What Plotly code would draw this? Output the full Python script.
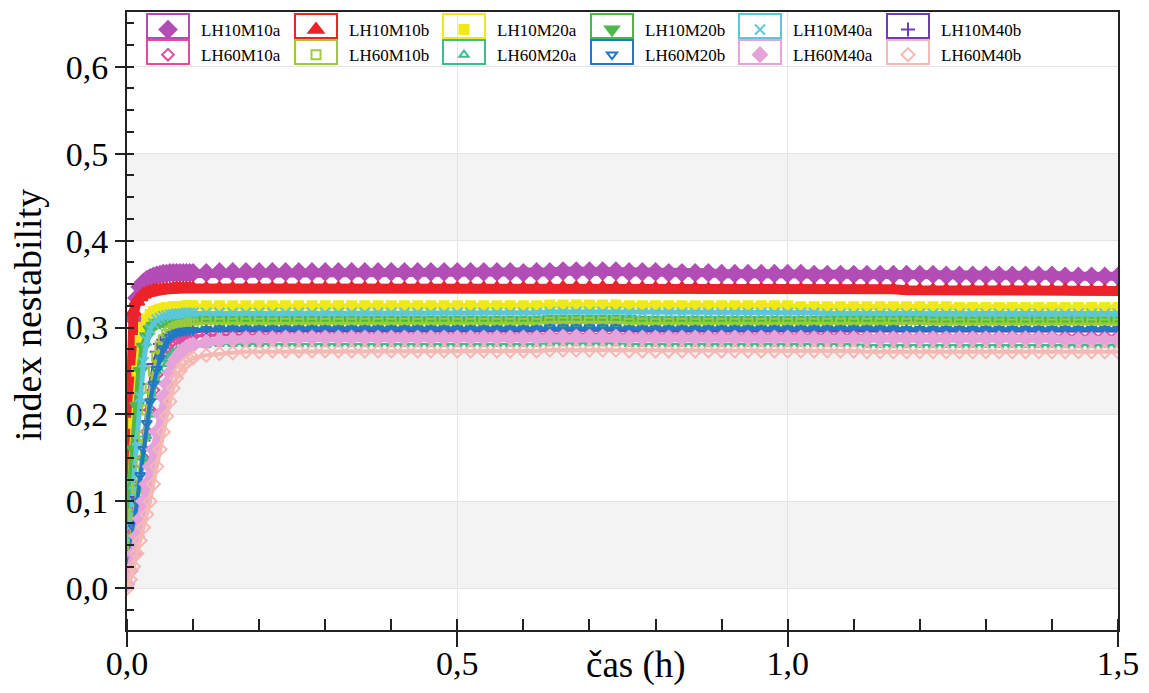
import plotly.graph_objects as go

# ---------------- data ----------------
time_h = [0.000, 0.005, 0.010, 0.015, 0.020, 0.025, 0.030, 0.035, 0.040, 0.045, 0.050,
          0.055, 0.060, 0.065, 0.070, 0.075, 0.080, 0.085, 0.090, 0.095, 0.100,
          0.12, 0.14, 0.16, 0.18, 0.20, 0.22, 0.24, 0.26, 0.28, 0.30,
          0.32, 0.34, 0.36, 0.38, 0.40, 0.42, 0.44, 0.46, 0.48, 0.50,
          0.52, 0.54, 0.56, 0.58, 0.60, 0.62, 0.64, 0.66, 0.68, 0.70,
          0.72, 0.74, 0.76, 0.78, 0.80, 0.82, 0.84, 0.86, 0.88, 0.90,
          0.92, 0.94, 0.96, 0.98, 1.00, 1.02, 1.04, 1.06, 1.08, 1.10,
          1.12, 1.14, 1.16, 1.18, 1.20, 1.22, 1.24, 1.26, 1.28, 1.30,
          1.32, 1.34, 1.36, 1.38, 1.40, 1.42, 1.44, 1.46, 1.48, 1.50]

LH10M10a = [0.110, 0.250, 0.310, 0.334, 0.347, 0.352, 0.355, 0.357, 0.359, 0.360, 0.361,
            0.362, 0.362, 0.363, 0.363, 0.363, 0.363, 0.363, 0.363, 0.363, 0.363,
            0.363, 0.364, 0.364, 0.364, 0.364, 0.364, 0.364, 0.364, 0.364, 0.364,
            0.364, 0.364, 0.364, 0.364, 0.364, 0.364, 0.364, 0.364, 0.364, 0.364,
            0.364, 0.364, 0.364, 0.364, 0.363, 0.364, 0.364, 0.365, 0.365, 0.365,
            0.365, 0.365, 0.364, 0.364, 0.364, 0.363, 0.363, 0.363, 0.363, 0.362,
            0.362, 0.362, 0.362, 0.362, 0.362, 0.362, 0.361, 0.361, 0.361, 0.361,
            0.361, 0.361, 0.361, 0.361, 0.361, 0.361, 0.360, 0.360, 0.360, 0.360,
            0.360, 0.360, 0.360, 0.360, 0.360, 0.359, 0.359, 0.359, 0.359, 0.359]

LH10M10b = [0.060, 0.220, 0.318, 0.330, 0.335, 0.338, 0.340, 0.341, 0.342, 0.343, 0.343,
            0.344, 0.344, 0.344, 0.345, 0.345, 0.345, 0.345, 0.345, 0.345, 0.345,
            0.345, 0.345, 0.345, 0.345, 0.345, 0.345, 0.345, 0.345, 0.345, 0.345,
            0.345, 0.345, 0.345, 0.345, 0.345, 0.345, 0.345, 0.345, 0.345, 0.345,
            0.345, 0.345, 0.345, 0.345, 0.345, 0.345, 0.346, 0.346, 0.346, 0.346,
            0.346, 0.346, 0.345, 0.345, 0.345, 0.345, 0.345, 0.345, 0.344, 0.344,
            0.344, 0.344, 0.344, 0.344, 0.344, 0.344, 0.344, 0.344, 0.344, 0.344,
            0.344, 0.344, 0.344, 0.343, 0.343, 0.343, 0.343, 0.343, 0.343, 0.343,
            0.343, 0.343, 0.343, 0.343, 0.343, 0.343, 0.342, 0.342, 0.342, 0.342]

LH10M20a = [0.080, 0.120, 0.190, 0.250, 0.285, 0.300, 0.310, 0.315, 0.318, 0.320, 0.321,
            0.322, 0.323, 0.323, 0.324, 0.324, 0.324, 0.324, 0.325, 0.325, 0.325,
            0.325, 0.325, 0.325, 0.325, 0.325, 0.325, 0.325, 0.325, 0.325, 0.325,
            0.325, 0.325, 0.325, 0.325, 0.325, 0.325, 0.325, 0.325, 0.325, 0.325,
            0.325, 0.325, 0.325, 0.325, 0.325, 0.325, 0.326, 0.326, 0.326, 0.326,
            0.326, 0.326, 0.325, 0.325, 0.325, 0.325, 0.325, 0.325, 0.325, 0.325,
            0.325, 0.325, 0.325, 0.325, 0.325, 0.324, 0.324, 0.324, 0.324, 0.324,
            0.324, 0.324, 0.324, 0.324, 0.324, 0.324, 0.324, 0.323, 0.323, 0.323,
            0.323, 0.323, 0.323, 0.323, 0.323, 0.323, 0.323, 0.323, 0.323, 0.323]

LH10M20b = [0.060, 0.110, 0.160, 0.210, 0.250, 0.278, 0.290, 0.298, 0.302, 0.305, 0.306,
            0.307, 0.308, 0.308, 0.309, 0.309, 0.309, 0.309, 0.309, 0.309, 0.309,
            0.309, 0.309, 0.309, 0.309, 0.309, 0.309, 0.309, 0.309, 0.309, 0.309,
            0.309, 0.309, 0.309, 0.309, 0.309, 0.309, 0.309, 0.309, 0.309, 0.309,
            0.309, 0.309, 0.309, 0.309, 0.309, 0.309, 0.310, 0.310, 0.310, 0.310,
            0.310, 0.310, 0.310, 0.309, 0.309, 0.309, 0.309, 0.309, 0.309, 0.309,
            0.309, 0.309, 0.309, 0.309, 0.309, 0.309, 0.309, 0.309, 0.309, 0.309,
            0.309, 0.309, 0.309, 0.309, 0.309, 0.308, 0.308, 0.308, 0.308, 0.308,
            0.308, 0.308, 0.308, 0.308, 0.308, 0.308, 0.308, 0.308, 0.308, 0.308]

LH10M40a = [0.030, 0.070, 0.120, 0.170, 0.220, 0.260, 0.285, 0.298, 0.305, 0.309, 0.311,
            0.313, 0.314, 0.315, 0.315, 0.316, 0.316, 0.316, 0.317, 0.317, 0.317,
            0.317, 0.317, 0.317, 0.317, 0.317, 0.317, 0.317, 0.317, 0.317, 0.317,
            0.317, 0.317, 0.317, 0.317, 0.317, 0.317, 0.317, 0.317, 0.317, 0.317,
            0.317, 0.317, 0.317, 0.317, 0.317, 0.317, 0.318, 0.318, 0.318, 0.318,
            0.318, 0.318, 0.317, 0.317, 0.317, 0.317, 0.317, 0.317, 0.317, 0.317,
            0.317, 0.317, 0.317, 0.317, 0.317, 0.317, 0.317, 0.316, 0.316, 0.316,
            0.316, 0.316, 0.316, 0.316, 0.316, 0.316, 0.316, 0.316, 0.316, 0.316,
            0.316, 0.316, 0.316, 0.316, 0.316, 0.316, 0.316, 0.316, 0.316, 0.316]

LH10M40b = [0.020, 0.045, 0.075, 0.105, 0.140, 0.170, 0.205, 0.235, 0.258, 0.272, 0.281,
            0.286, 0.289, 0.291, 0.292, 0.293, 0.294, 0.294, 0.295, 0.295, 0.295,
            0.296, 0.296, 0.296, 0.296, 0.296, 0.296, 0.296, 0.296, 0.296, 0.296,
            0.296, 0.296, 0.296, 0.296, 0.296, 0.296, 0.296, 0.296, 0.296, 0.296,
            0.296, 0.296, 0.296, 0.296, 0.296, 0.296, 0.297, 0.297, 0.297, 0.297,
            0.297, 0.297, 0.296, 0.296, 0.296, 0.296, 0.296, 0.296, 0.296, 0.296,
            0.296, 0.296, 0.296, 0.296, 0.296, 0.296, 0.296, 0.296, 0.296, 0.296,
            0.296, 0.296, 0.296, 0.296, 0.296, 0.296, 0.296, 0.296, 0.296, 0.296,
            0.296, 0.296, 0.296, 0.296, 0.296, 0.296, 0.296, 0.296, 0.296, 0.296]

LH60M10a = [0.020, 0.040, 0.065, 0.090, 0.120, 0.150, 0.180, 0.205, 0.228, 0.246, 0.260,
            0.270, 0.277, 0.282, 0.285, 0.287, 0.288, 0.289, 0.289, 0.290, 0.290,
            0.291, 0.291, 0.291, 0.291, 0.291, 0.291, 0.291, 0.291, 0.291, 0.291,
            0.291, 0.291, 0.291, 0.291, 0.291, 0.291, 0.291, 0.291, 0.291, 0.291,
            0.291, 0.291, 0.291, 0.291, 0.291, 0.291, 0.292, 0.292, 0.292, 0.292,
            0.292, 0.292, 0.291, 0.291, 0.291, 0.291, 0.291, 0.291, 0.291, 0.291,
            0.291, 0.291, 0.291, 0.291, 0.291, 0.291, 0.291, 0.291, 0.291, 0.291,
            0.290, 0.290, 0.290, 0.290, 0.290, 0.290, 0.290, 0.290, 0.290, 0.290,
            0.290, 0.290, 0.290, 0.290, 0.290, 0.290, 0.290, 0.290, 0.290, 0.290]

LH60M10b = [0.030, 0.055, 0.085, 0.115, 0.145, 0.175, 0.205, 0.230, 0.250, 0.266, 0.278,
            0.286, 0.292, 0.296, 0.299, 0.301, 0.302, 0.303, 0.303, 0.304, 0.304,
            0.305, 0.305, 0.305, 0.305, 0.305, 0.305, 0.305, 0.305, 0.305, 0.305,
            0.305, 0.305, 0.305, 0.305, 0.305, 0.305, 0.305, 0.305, 0.305, 0.305,
            0.305, 0.305, 0.305, 0.305, 0.305, 0.305, 0.306, 0.306, 0.306, 0.306,
            0.306, 0.306, 0.305, 0.305, 0.305, 0.305, 0.305, 0.305, 0.305, 0.305,
            0.305, 0.305, 0.305, 0.305, 0.305, 0.305, 0.305, 0.305, 0.305, 0.305,
            0.305, 0.305, 0.305, 0.305, 0.305, 0.304, 0.304, 0.304, 0.304, 0.304,
            0.304, 0.304, 0.304, 0.304, 0.304, 0.304, 0.304, 0.304, 0.304, 0.304]

LH60M20a = [0.010, 0.030, 0.060, 0.090, 0.120, 0.150, 0.175, 0.200, 0.220, 0.238, 0.250,
            0.258, 0.264, 0.268, 0.271, 0.273, 0.275, 0.276, 0.277, 0.278, 0.279,
            0.280, 0.281, 0.281, 0.281, 0.281, 0.281, 0.281, 0.281, 0.281, 0.281,
            0.281, 0.281, 0.281, 0.281, 0.281, 0.281, 0.281, 0.281, 0.281, 0.281,
            0.281, 0.281, 0.281, 0.281, 0.281, 0.281, 0.282, 0.282, 0.282, 0.282,
            0.282, 0.282, 0.281, 0.281, 0.281, 0.281, 0.281, 0.281, 0.281, 0.281,
            0.281, 0.281, 0.281, 0.281, 0.281, 0.281, 0.281, 0.281, 0.281, 0.281,
            0.280, 0.280, 0.280, 0.280, 0.280, 0.280, 0.280, 0.280, 0.280, 0.280,
            0.280, 0.280, 0.280, 0.280, 0.280, 0.280, 0.280, 0.280, 0.280, 0.280]

LH60M20b = [0.020, 0.040, 0.070, 0.100, 0.130, 0.160, 0.190, 0.215, 0.235, 0.252, 0.265,
            0.276, 0.284, 0.289, 0.292, 0.294, 0.295, 0.296, 0.296, 0.297, 0.297,
            0.298, 0.299, 0.299, 0.299, 0.299, 0.299, 0.299, 0.299, 0.299, 0.299,
            0.299, 0.299, 0.299, 0.299, 0.299, 0.299, 0.299, 0.299, 0.299, 0.299,
            0.299, 0.299, 0.299, 0.299, 0.299, 0.299, 0.300, 0.300, 0.300, 0.300,
            0.300, 0.300, 0.299, 0.299, 0.299, 0.299, 0.299, 0.299, 0.299, 0.299,
            0.299, 0.299, 0.299, 0.299, 0.299, 0.299, 0.299, 0.299, 0.299, 0.299,
            0.299, 0.299, 0.299, 0.298, 0.298, 0.298, 0.298, 0.298, 0.298, 0.298,
            0.298, 0.298, 0.298, 0.298, 0.298, 0.298, 0.298, 0.298, 0.298, 0.298]

LH60M40a = [0.005, 0.020, 0.040, 0.060, 0.080, 0.100, 0.120, 0.140, 0.160, 0.180, 0.200,
            0.220, 0.235, 0.248, 0.258, 0.265, 0.270, 0.274, 0.277, 0.279, 0.280,
            0.283, 0.285, 0.286, 0.287, 0.287, 0.287, 0.288, 0.288, 0.288, 0.288,
            0.288, 0.288, 0.288, 0.288, 0.288, 0.288, 0.288, 0.288, 0.288, 0.288,
            0.288, 0.288, 0.288, 0.288, 0.288, 0.288, 0.289, 0.289, 0.289, 0.289,
            0.289, 0.289, 0.288, 0.288, 0.288, 0.288, 0.288, 0.288, 0.288, 0.288,
            0.288, 0.288, 0.288, 0.288, 0.288, 0.288, 0.287, 0.287, 0.287, 0.287,
            0.287, 0.287, 0.287, 0.287, 0.287, 0.287, 0.287, 0.287, 0.287, 0.287,
            0.287, 0.287, 0.287, 0.287, 0.287, 0.286, 0.286, 0.286, 0.286, 0.286]

LH60M40b = [0.000, 0.010, 0.025, 0.040, 0.055, 0.070, 0.085, 0.100, 0.120, 0.140, 0.160,
            0.180, 0.198, 0.215, 0.230, 0.242, 0.250, 0.256, 0.260, 0.263, 0.265,
            0.268, 0.270, 0.271, 0.272, 0.272, 0.273, 0.273, 0.273, 0.273, 0.273,
            0.273, 0.273, 0.273, 0.273, 0.273, 0.273, 0.273, 0.273, 0.273, 0.273,
            0.273, 0.273, 0.273, 0.273, 0.273, 0.273, 0.274, 0.274, 0.274, 0.274,
            0.274, 0.274, 0.273, 0.273, 0.273, 0.273, 0.273, 0.273, 0.273, 0.273,
            0.273, 0.273, 0.273, 0.273, 0.273, 0.273, 0.273, 0.273, 0.273, 0.273,
            0.272, 0.272, 0.272, 0.272, 0.272, 0.272, 0.272, 0.272, 0.272, 0.272,
            0.272, 0.272, 0.272, 0.272, 0.272, 0.272, 0.272, 0.272, 0.272, 0.272]

series_names = ["LH10M10a", "LH10M10b", "LH10M20a", "LH10M20b", "LH10M40a", "LH10M40b",
                "LH60M10a", "LH60M10b", "LH60M20a", "LH60M20b", "LH60M40a", "LH60M40b"]
series_values = [LH10M10a, LH10M10b, LH10M20a, LH10M20b, LH10M40a, LH10M40b,
                 LH60M10a, LH60M10b, LH60M20a, LH60M20b, LH60M40a, LH60M40b]

y_tick_values = [0.0, 0.1, 0.2, 0.3, 0.4, 0.5, 0.6]
x_tick_values = [0.0, 0.5, 1.0, 1.5]

# ---------------- styles ----------------
colors = ["#b34db6", "#ec2329", "#f1e817", "#4db848", "#5ac7da", "#6a3fb3",
          "#df4b9e", "#9bcb3b", "#3dbd8b", "#2278c7", "#e6a3d9", "#f5b8b3"]
symbols = ["diamond", "triangle-up", "square", "triangle-down", "x-thin", "cross-thin",
           "diamond-open", "square-open", "triangle-up-open", "triangle-down-open", "diamond", "diamond-open"]
sizes = [13, 13, 9, 12, 10, 10, 9, 9, 8, 9, 11, 10]
band_widths = [9, 10, 6, 8, 5, 3, 3, 3, 2, 4, 8, 4]

FONT = "Liberation Serif"
W, H = 1149, 693
ML, MR, MT, MB = 127, 31, 12, 63
PW, PH = W - ML - MR, H - MT - MB

fig = go.Figure()
for name, vals, col, sym, sz, bw in zip(series_names, series_values, colors, symbols, sizes, band_widths):
    fig.add_trace(go.Scatter(x=time_h, y=vals, mode="lines", showlegend=False,
                             line=dict(color=col, width=bw), hoverinfo="skip"))
    fig.add_trace(go.Scatter(x=time_h, y=vals, mode="markers", name=name,
                             marker=dict(symbol=sym, size=sz, color=col,
                                         line=dict(color=col, width=2))))

# background bands
shapes = []
for lo in [0.0, 0.2, 0.4]:
    shapes.append(dict(type="rect", xref="paper", yref="y", x0=0, x1=1, y0=lo, y1=lo + 0.1,
                       fillcolor="#f3f3f3", line=dict(width=0), layer="below"))

# boxes around legend symbols
ITEM_X0 = 135
ITEM_STEP = 148
SYM_W = 56              # legend itemwidth -> symbol centre at SYM_W/2 + 5
ROW_CY = [26, 52]
for i, col in enumerate(colors):
    r, c = divmod(i, 6)
    cx = ITEM_X0 + SYM_W / 2 + 5 + c * ITEM_STEP
    cy = ROW_CY[r]
    shapes.append(dict(type="rect", xref="paper", yref="paper",
                       x0=(cx - 21 - ML) / PW, x1=(cx + 21 - ML) / PW,
                       y0=(H - MB - (cy + 12)) / PH, y1=(H - MB - (cy - 12)) / PH,
                       line=dict(color=col, width=2), fillcolor="rgba(0,0,0,0)"))

fig.update_layout(
    width=W, height=H,
    margin=dict(l=ML, r=MR, t=MT, b=MB, autoexpand=False),
    paper_bgcolor="white", plot_bgcolor="white",
    separators=", ",
    font=dict(family=FONT, color="black"),
    shapes=shapes,
    showlegend=True,
    legend=dict(orientation="h", x=(ITEM_X0 - ML) / PW, xanchor="left", y=1.0, yanchor="top",
                itemwidth=SYM_W, entrywidth=ITEM_STEP - (SYM_W + 10) - 5, entrywidthmode="pixels",
                font=dict(family=FONT, size=17, color="black"),
                bgcolor="rgba(0,0,0,0)", borderwidth=0, tracegroupgap=0),
    annotations=[
        dict(text="index nestability", xref="paper", yref="paper",
             x=(28 - ML) / PW, y=(H - MB - 315) / PH, showarrow=False, textangle=-90,
             font=dict(family=FONT, size=38, color="black"), xanchor="center", yanchor="middle"),
        dict(text="čas (h)", xref="paper", yref="paper",
             x=(636 - ML) / PW, y=(H - MB - 665) / PH, showarrow=False,
             font=dict(family=FONT, size=37, color="black"), xanchor="center", yanchor="middle"),
    ],
)

fig.update_xaxes(range=[0, 1.5], tickvals=x_tick_values, tickformat=".1f",
                 automargin=False,
                 ticks="outside", ticklen=15, tickwidth=1.5, tickcolor="#222",
                 ticklabelstandoff=-13,
                 tickfont=dict(family=FONT, size=34, color="black"),
                 showline=True, linecolor="#222", linewidth=2, mirror=True,
                 showgrid=True, gridcolor="#e4e4e4", gridwidth=1, zeroline=False,
                 minor=dict(dtick=0.1, tick0=0, ticks="inside", ticklen=11, tickwidth=1.5,
                            tickcolor="#222", showgrid=False))
fig.update_yaxes(range=[-0.048, 0.663], tickvals=y_tick_values, tickformat=".1f",
                 automargin=False,
                 ticks="outside", ticklen=10, tickwidth=1.5, tickcolor="#222",
                 tickfont=dict(family=FONT, size=34, color="black"),
                 showline=True, linecolor="#222", linewidth=2, mirror=True,
                 showgrid=True, gridcolor="#e4e4e4", gridwidth=1, zeroline=False,
                 minor=dict(dtick=0.025, tick0=0, ticks="inside", ticklen=7, tickwidth=1.5,
                            tickcolor="#222", showgrid=False))

fig.write_html("out.html")
